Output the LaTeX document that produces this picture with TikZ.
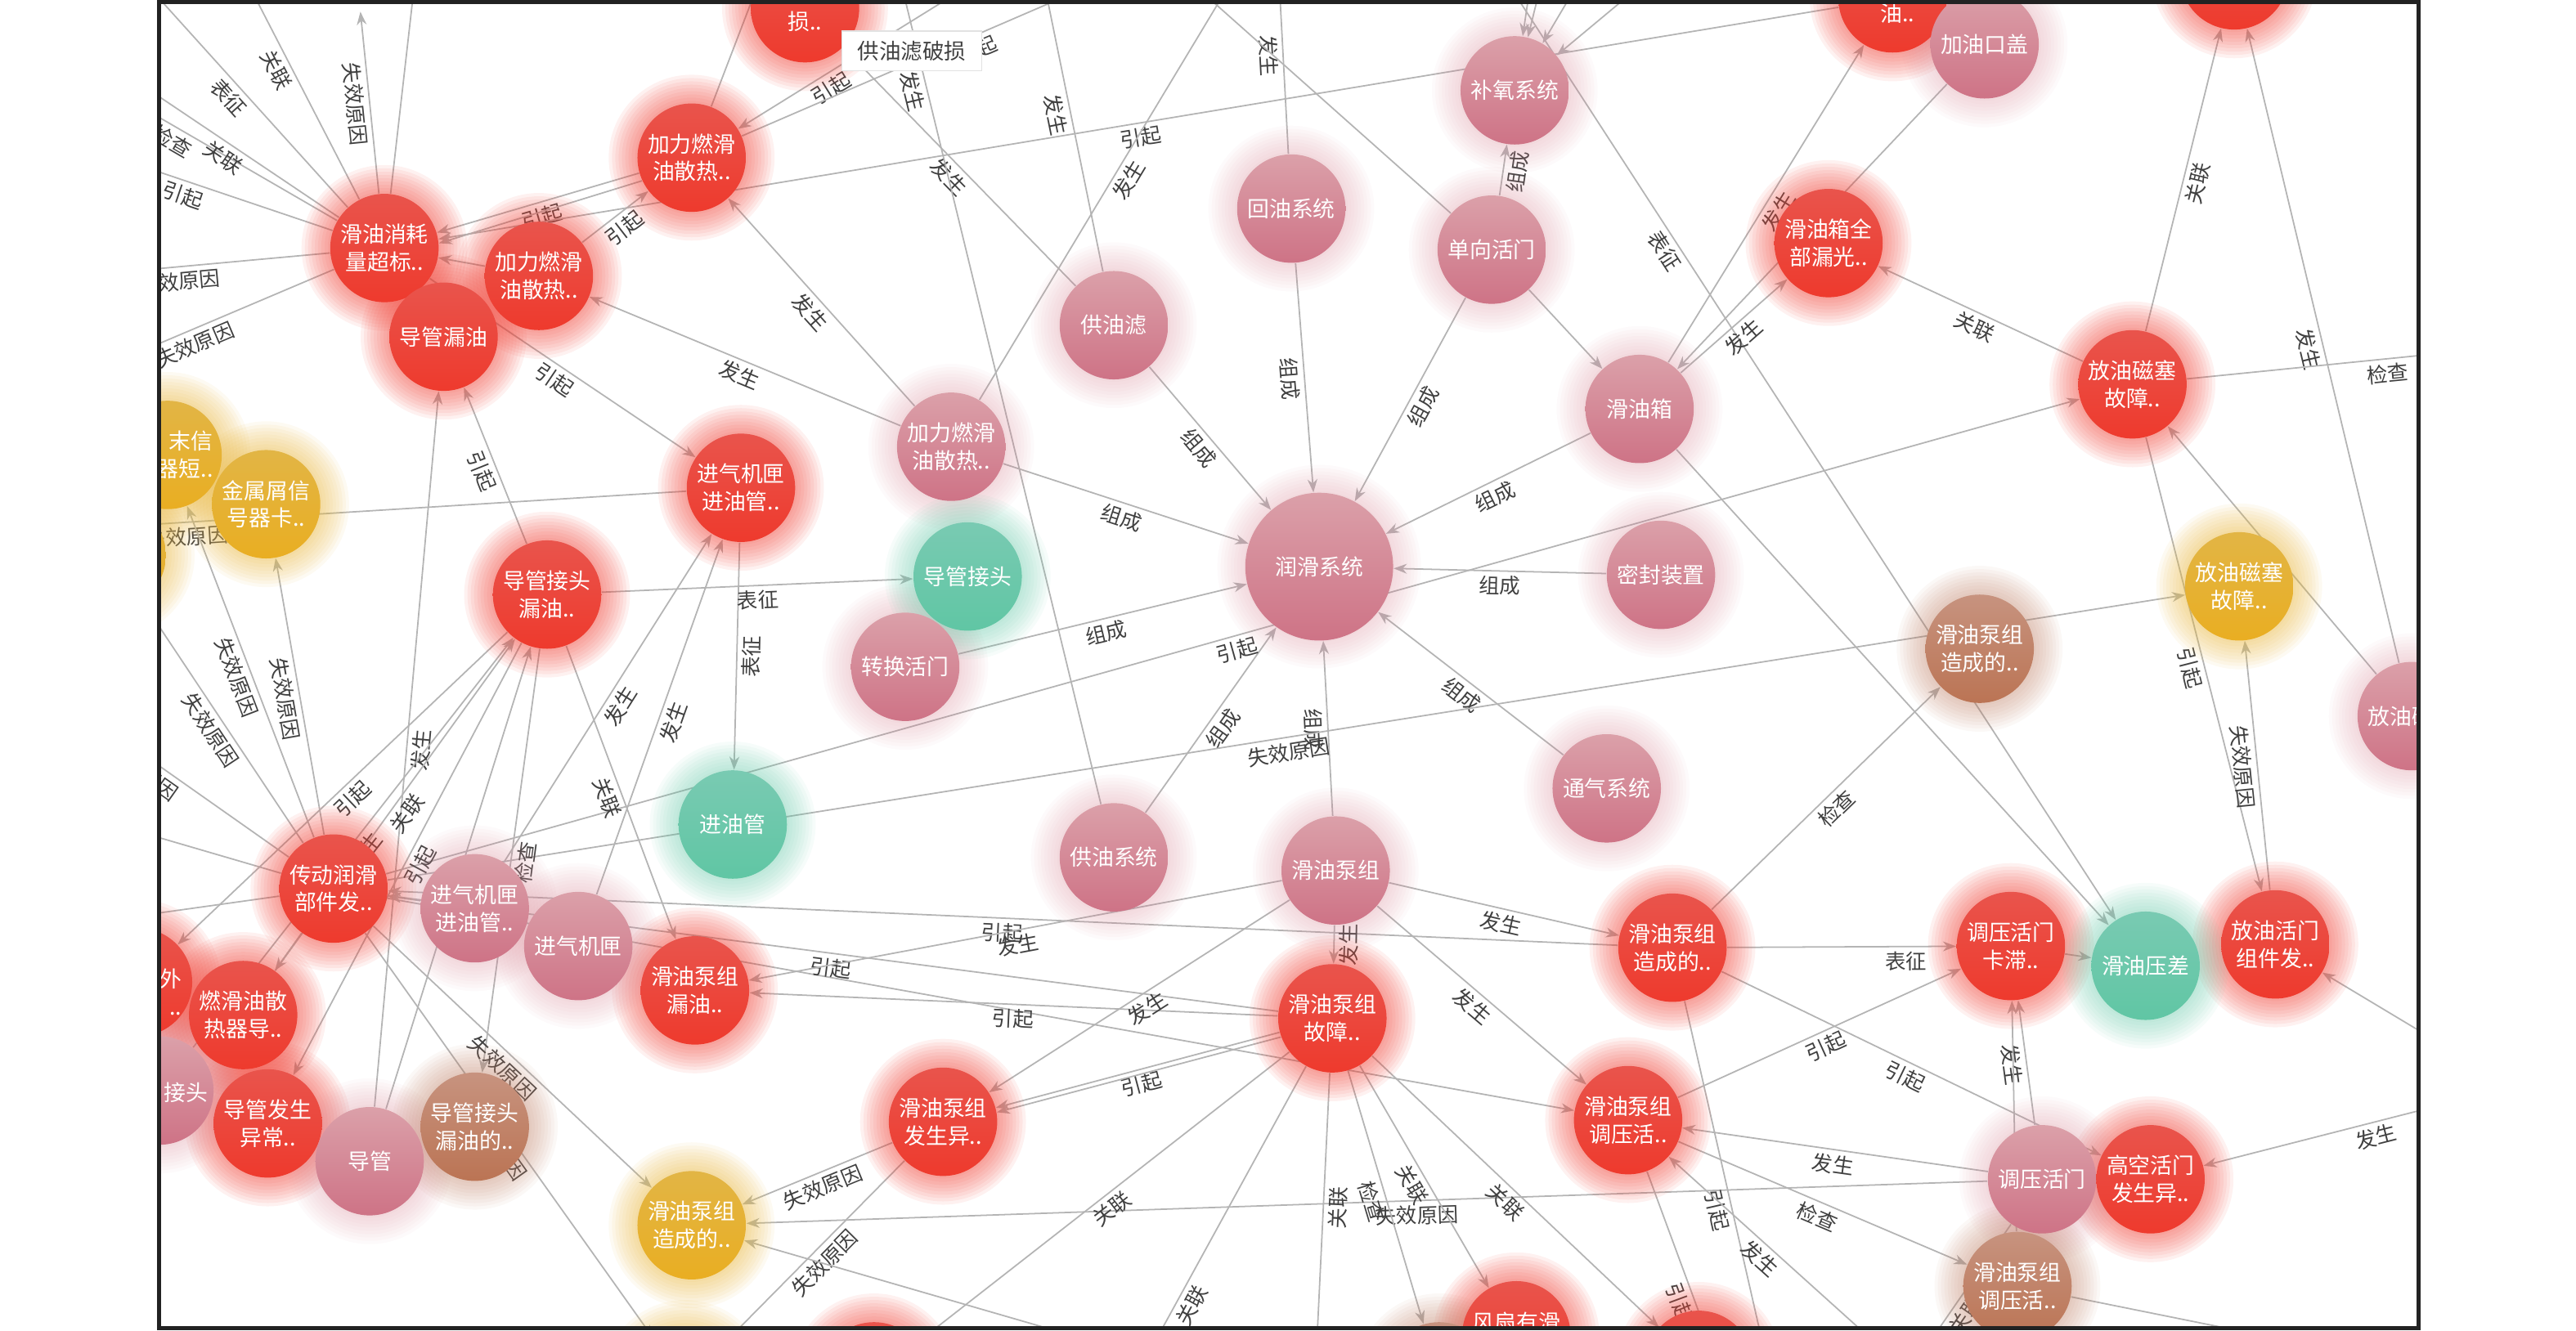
\documentclass[tikz,border=0pt]{standalone}
\usepackage{fontspec}
\newfontfamily\cjk{Noto Sans CJK SC}
\usetikzlibrary{arrows.meta}

\definecolor{redtop}{HTML}{E9544C}
\definecolor{redbot}{HTML}{EE3A2D}
\definecolor{redglow}{HTML}{F0453A}
\definecolor{pinktop}{HTML}{DBA0A9}
\definecolor{pinkbot}{HTML}{CE7386}
\definecolor{pinkglow}{HTML}{D98C99}
\definecolor{yeltop}{HTML}{E2B545}
\definecolor{yelbot}{HTML}{E9AE22}
\definecolor{yelglow}{HTML}{E8B640}
\definecolor{grntop}{HTML}{79CAB2}
\definecolor{grnbot}{HTML}{60C6A4}
\definecolor{grnglow}{HTML}{66C8A8}
\definecolor{brntop}{HTML}{C7937F}
\definecolor{brnbot}{HTML}{BB7454}
\definecolor{brnglow}{HTML}{BE8066}
\definecolor{linegray}{HTML}{B4B4B4}
\definecolor{labgray}{HTML}{404040}
\definecolor{framecol}{HTML}{222222}
\definecolor{tipline}{HTML}{E2E2E2}

\newcommand{\ballfont}{\cjk\fontsize{7.6}{9.6}\selectfont}
\newcommand{\relfont}{\cjk\fontsize{7.2}{8}\selectfont}

\pgfdeclarelayer{edgelayer}
\pgfdeclarelayer{glowlayer}
\pgfsetlayers{edgelayer,glowlayer,main}

\begin{document}
\begin{tikzpicture}[x=0.02cm,y=-0.02cm,
	ball/.style={circle,minimum size=1.32cm,inner sep=0pt,text=white,font=\ballfont,align=center},
	redball/.style={ball,top color=redtop,bottom color=redbot},
	pinkball/.style={ball,top color=pinktop,bottom color=pinkbot},
	yelball/.style={ball,top color=yeltop,bottom color=yelbot},
	grnball/.style={ball,top color=grntop,bottom color=grnbot},
	brnball/.style={ball,top color=brntop,bottom color=brnbot},
	ghost/.style={circle,minimum size=1.32cm,inner sep=0pt},
	balltext/.style={text=white,font=\ballfont,inner sep=0pt,align=center},
	rel/.style={draw=linegray,line width=0.5pt,-{Stealth[length=0.16cm,width=0.12cm]}},
	lab/.style={midway,sloped,below=1pt,inner sep=0.5pt,font=\relfont,text=labgray},
	tipbox/.style={fill=white,draw=tipline,line width=0.4pt,minimum width=1.7cm,minimum height=0.48cm,inner sep=0pt,font=\cjk\fontsize{7.5}{8}\selectfont,text=labgray}]
		\useasboundingbox (0,0) rectangle (1568,810);

		\begin{scope}
			\clip (98,2) rectangle (1471,808);
			\node[redball] (sun) at (490,5) {};
			\node[redball] (jl1) at (421,96) {加力燃滑\\油散热..};
			\node[redball] (hyxh) at (234,151) {滑油消耗\\量超标..};
			\node[redball] (jl2) at (328,168) {加力燃滑\\油散热..};
			\node[redball] (dglo) at (270,205) {导管漏油};
			\node[pinkball] (gyl) at (678,198) {供油滤};
			\node[pinkball] (hyxt) at (786,127) {回油系统};
			\node[pinkball] (byxt) at (922,55) {补氧系统};
			\node[pinkball] (dxhm) at (908,152) {单向活门};
			\node[redball] (you) at (1152,-1) {};
			\node[pinkball] (jykg) at (1208,27) {加油口盖};
			\node[redball] (hyxq) at (1113,148) {滑油箱全\\部漏光..};
			\node[redball] (fycs1) at (1298,234) {放油磁塞\\故障..};
			\node[redball] (topr) at (1360,-15) {};
			\node[pinkball] (hyx) at (998,249) {滑油箱};
			\node[pinkball] (jl3) at (579,272) {加力燃滑\\油散热..};
			\node[redball] (jqjx1) at (451,297) {进气机匣\\进油管..};
			\node[yelball] (mx) at (102,277) {};
			\node[yelball] (l3) at (68,338) {};
			\node[yelball] (jsx) at (162,307) {金属屑信\\号器卡..};
			\node[redball] (dgjt1) at (333,362) {导管接头\\漏油..};
			\node[grnball] (dgjt) at (589,351) {导管接头};
			\node[pinkball] (zhhm) at (551,406) {转换活门};
			\node[pinkball,minimum size=1.8cm] (rhxt) at (803,345) {润滑系统};
			\node[pinkball] (mfzz) at (1011,350) {密封装置};
			\node[pinkball] (tqxt) at (978,480) {通气系统};
			\node[brnball] (hybz1) at (1205,395) {滑油泵组\\造成的..};
			\node[yelball] (fycs2) at (1363,357) {放油磁塞\\故障..};
			\node[pinkball] (fycs3) at (1468,436) {};
			\node[grnball] (jyg) at (446,502) {进油管};
			\node[redball] (cdrh) at (203,541) {传动润滑\\部件发..};
			\node[pinkball] (jqjx2) at (289,553) {进气机匣\\进油管..};
			\node[pinkball] (jqjx) at (352,576) {进气机匣};
			\node[redball] (hybz2) at (423,603) {滑油泵组\\漏油..};
			\node[redball] (l1) at (84,598) {};
			\node[redball] (rhys) at (148,618) {燃滑油散\\热器导..};
			\node[pinkball] (l2) at (97,664) {};
			\node[redball] (dgfs) at (163,684) {导管发生\\异常..};
			\node[pinkball] (dg) at (225,707) {导管};
			\node[brnball] (dgjt2) at (289,686) {导管接头\\漏油的..};
			\node[yelball] (hybz3) at (421,746) {滑油泵组\\造成的..};
			\node[pinkball] (gyxt) at (678,522) {供油系统};
			\node[pinkball] (hybz) at (813,530) {滑油泵组};
			\node[redball] (hybzg) at (811,620) {滑油泵组\\故障..};
			\node[redball] (hybzf) at (574,683) {滑油泵组\\发生异..};
			\node[redball] (hybz4) at (1018,577) {滑油泵组\\造成的..};
			\node[redball] (hybz5) at (991,682) {滑油泵组\\调压活..};
			\node[redball] (tyhm1) at (1224,576) {调压活门\\卡滞..};
			\node[grnball] (hyyc) at (1306,588) {滑油压差};
			\node[redball] (fyhm) at (1385,575) {放油活门\\组件发..};
			\node[pinkball] (tyhm) at (1243,718) {调压活门};
			\node[redball] (gkhm) at (1309,718) {高空活门\\发生异..};
			\node[brnball] (hybz6) at (1228,783) {滑油泵组\\调压活..};
			\node[redball] (fs) at (923,813) {};
			\node[redball] (b1) at (1034,831) {};
			\node[brnball] (b2) at (876,838) {};
			\node[redball] (b3) at (532,838) {};
			\node[yelball] (b4) at (417,842) {};
			\node[balltext] (sunt) at (490,13) {损..};
			\node[balltext] (yout) at (1155,8) {油..};
			\node[balltext,anchor=east,align=right] (mxt) at (130,277) {末信\\器短..};
			\node[balltext,anchor=east,align=right] (l1t) at (111,604) {外\\..};
			\node[balltext,anchor=east] (l2t) at (127,665) {接头};
			\node[balltext,anchor=west] (fycs3t) at (1441,436) {放油磁};
			\node[balltext] (fst) at (923,805) {风扇有滑};
		\end{scope}

		\node[ghost] (g1) at (58,-44) {};
		\node[ghost] (g2) at (118,-74) {};
		\node[ghost] (g3) at (216,-26) {};
		\node[ghost] (g4) at (258,-60) {};
		\node[ghost] (g5) at (-16,6) {};
		\node[ghost] (g6) at (48,26) {};
		\node[ghost] (g7) at (-6,70) {};
		\node[ghost] (g8) at (-18,174) {};
		\node[ghost] (g9) at (-4,252) {};
		\node[ghost] (g16) at (475,-45) {};
		\node[ghost] (gA) at (640,-40) {};
		\node[ghost] (gB) at (736,-40) {};
		\node[ghost] (gC) at (450,-415) {};
		\node[ghost] (gD) at (625,-62) {};
		\node[ghost] (gE) at (780,-62) {};
		\node[ghost] (gF) at (776,-60) {};
		\node[ghost] (gG) at (700,-33) {};
		\node[ghost] (gH1) at (936,-40) {};
		\node[ghost] (gH2) at (948,-50) {};
		\node[ghost] (gH3) at (990,-60) {};
		\node[ghost] (gH4) at (1060,-60) {};
		\node[ghost] (gI) at (735,-292) {};
		\node[ghost] (gJ) at (1607,203) {};
		\node[ghost] (gK) at (-225,339) {};
		\node[ghost] (gL) at (-20,384) {};
		\node[ghost] (gM1) at (-40,470) {};
		\node[ghost] (gM2) at (-40,575) {};
		\node[ghost] (gN) at (624,961) {};
		\node[ghost] (gO) at (780,850) {};
		\node[ghost] (gP) at (800,850) {};
		\node[ghost] (gQ1) at (1579,649) {};
		\node[ghost] (gQ2) at (1560,680) {};
		\node[ghost] (gR) at (1560,850) {};
		\node[ghost] (gS) at (1136,873) {};
		\node[ghost] (gT) at (1090,893) {};
		\node[ghost] (gU) at (1163,837) {};
		\node[ghost] (gV) at (1071,899) {};

		\begin{pgfonlayer}{glowlayer}
			\begin{scope}
				\clip (98,2) rectangle (1471,808);
				\foreach \n/\c/\o in {sun/redglow/0.075,jl1/redglow/0.075,hyxh/redglow/0.075,jl2/redglow/0.075,dglo/redglow/0.075,you/redglow/0.075,hyxq/redglow/0.075,fycs1/redglow/0.075,topr/redglow/0.075,jqjx1/redglow/0.075,dgjt1/redglow/0.075,cdrh/redglow/0.075,hybz2/redglow/0.075,rhys/redglow/0.075,dgfs/redglow/0.075,hybzg/redglow/0.075,hybzf/redglow/0.075,hybz4/redglow/0.075,hybz5/redglow/0.075,tyhm1/redglow/0.075,fyhm/redglow/0.075,gkhm/redglow/0.075,fs/redglow/0.075,b1/redglow/0.075,b3/redglow/0.075,l1/redglow/0.075,gyl/pinkglow/0.045,hyxt/pinkglow/0.045,byxt/pinkglow/0.045,dxhm/pinkglow/0.045,jykg/pinkglow/0.045,hyx/pinkglow/0.045,jl3/pinkglow/0.045,zhhm/pinkglow/0.045,mfzz/pinkglow/0.045,tqxt/pinkglow/0.045,fycs3/pinkglow/0.045,jqjx2/pinkglow/0.045,jqjx/pinkglow/0.045,dg/pinkglow/0.045,gyxt/pinkglow/0.045,hybz/pinkglow/0.045,tyhm/pinkglow/0.045,l2/pinkglow/0.045,jsx/yelglow/0.07,mx/yelglow/0.07,l3/yelglow/0.07,fycs2/yelglow/0.07,hybz3/yelglow/0.07,b4/yelglow/0.07,dgjt/grnglow/0.06,jyg/grnglow/0.06,hyyc/grnglow/0.06,hybz1/brnglow/0.06,dgjt2/brnglow/0.06,hybz6/brnglow/0.06,b2/brnglow/0.06}
					\foreach \r in {0.69,0.73,0.77,0.81,0.85,0.89,0.93,0.97,1.01}
						\fill[\c,opacity=\o] (\n) circle (\r cm);
				\foreach \r in {0.92,0.96,1.00,1.04,1.08,1.12,1.16,1.20,1.24}
					\fill[pinkglow,opacity=0.045] (rhxt) circle (\r cm);
			\end{scope}
		\end{pgfonlayer}

		\begin{pgfonlayer}{edgelayer}
			\begin{scope}
				\clip (98,2) rectangle (1471,808);
				\draw[rel] (hyxh) -- (g1) node[lab]{表征};
				\draw[rel] (hyxh) -- (g2) node[lab]{关联};
				\draw[rel] (hyxh) -- (g3) node[lab]{失效原因};
				\draw[rel] (hyxh) -- (g4);
				\draw[rel] (hyxh) -- (g5) node[lab]{检查};
				\draw[rel] (hyxh) -- (g6) node[lab]{关联};
				\draw[rel] (hyxh) -- (g7) node[lab]{引起};
				\draw[rel] (hyxh) -- (g8) node[lab]{失效原因};
				\draw[rel] (hyxh) -- (g9) node[lab]{失效原因};
				\draw[rel] (jl1) -- (hyxh) node[lab]{引起};
				\draw[rel] (jl1.205) -- (hyxh.5);
				\draw[rel] (jl2) -- (hyxh);
				\draw[rel] (you) -- (hyxh) node[lab]{引起};
				\draw[rel] (hyxh) -- (jqjx1) node[lab]{引起};
				\draw[rel] (jl2) -- (jl1) node[lab]{引起};
				\draw[rel] (jl3) -- (jl1) node[lab]{发生};
				\draw[rel] (jl3) -- (jl2) node[lab]{发生};
				\draw[rel] (jl1) -- (g16);
				\draw[rel] (gA) -- (jl1) node[lab,pos=0.68]{引起};
				\draw[rel] (jl1) -- (gB) node[lab,pos=0.55]{引起};
				\draw[rel] (gyl) -- (sun) node[lab]{发生};
				\draw[rel] (gyxt) -- (gC) node[lab]{发生};
				\draw[rel] (gyl) -- (gD) node[lab]{发生};
				\draw[rel] (jl3) -- (gE) node[lab]{发生};
				\draw[rel] (hyxt) -- (gF) node[lab]{发生};
				\draw[rel] (dxhm) -- (gG);
				\draw[rel] (dxhm) -- (hyx);
				\foreach \g in {gH1,gH2,gH3,gH4}
					\draw[rel] (\g) -- (byxt);
				\draw[rel] (dxhm) -- (byxt) node[lab]{组成};
				\foreach \s in {hyxt,dxhm,gyl,jl3,zhhm,gyxt,hybz,hyx,mfzz,tqxt}
					\draw[rel] (\s) -- (rhxt) node[lab]{组成};
				\draw[rel] (gI) -- (hyyc) node[lab]{表征};
				\draw[rel] (hyx) -- (hyyc);
				\draw[rel] (hyx) -- (hyxq) node[lab]{发生};
				\draw[rel] (jykg) -- (hyx);
				\draw[rel] (hyx) -- (you) node[lab]{发生};
				\draw[rel] (fycs1) -- (hyxq) node[lab]{关联};
				\draw[rel] (fycs1) -- (topr) node[lab]{关联};
				\draw[rel] (fycs3) -- (topr) node[lab]{发生};
				\draw[rel] (fycs3) -- (fycs1);
				\draw[rel] (fycs1) -- (gJ) node[lab]{检查};
				\draw[rel] (fycs1) -- (fyhm) node[lab]{引起};
				\draw[rel] (fyhm) -- (fycs2) node[lab]{失效原因};
				\draw[rel] (cdrh) -- (fycs1) node[lab]{引起};
				\draw[rel] (cdrh) -- (fycs2) node[lab]{失效原因};
				\draw[rel] (jqjx1) -- (jyg) node[lab]{表征};
				\draw[rel] (dgjt1) -- (dgjt) node[lab]{表征};
				\draw[rel] (jqjx1) -- (gK) node[lab]{失效原因};
				\draw[rel] (dgjt1) -- (dglo) node[lab]{引起};
				\draw[rel] (dg) -- (dglo) node[lab]{发生};
				\draw[rel] (cdrh) -- (jsx) node[lab]{失效原因};
				\draw[rel] (cdrh) -- (mx) node[lab]{失效原因};
				\draw[rel] (cdrh) -- (l3) node[lab]{失效原因};
				\draw[rel] (cdrh) -- (gL) node[lab]{失效原因};
				\draw[rel] (cdrh) -- (gM1);
				\draw[rel] (cdrh) -- (gM2);
				\draw[rel] (cdrh) -- (rhys);
				\draw[rel] (dgjt1) -- (l1) node[lab]{引起};
				\draw[rel] (rhys) -- (dgjt1) node[lab]{关联};
				\draw[rel] (l2) -- (dgjt1) node[lab]{发生};
				\draw[rel] (dgjt1) -- (dgfs) node[lab]{引起};
				\draw[rel] (dg) -- (dgjt1);
				\draw[rel] (dgjt1) -- (hybz2) node[lab]{关联};
				\draw[rel] (dgjt1) -- (dgjt2) node[lab]{检查};
				\draw[rel] (jqjx2) -- (jqjx1) node[lab]{发生};
				\draw[rel] (jqjx) -- (jqjx1) node[lab]{发生};
				\draw[rel] (jqjx2) -- (cdrh);
				\draw[rel] (cdrh) -- (hybz3) node[lab]{失效原因};
				\draw[rel] (cdrh) -- (b4) node[lab]{失效原因};
				\draw[rel] (cdrh) -- (hybz5);
				\draw[rel] (hybzg) -- (cdrh) node[lab]{引起};
				\draw[rel] (hybz4) -- (cdrh) node[lab]{引起};
				\draw[rel] (hybz) -- (hybz2) node[lab]{发生};
				\draw[rel] (hybzg) -- (hybz2) node[lab]{引起};
				\draw[rel] (hybzg) -- (hybzf) node[lab]{引起};
				\draw[rel] (hybzg.200) -- (hybzf.10);
				\draw[rel] (hybz) -- (hybzf) node[lab]{发生};
				\draw[rel] (hybz) -- (hybzg) node[lab]{发生};
				\draw[rel] (hybz) -- (hybz4) node[lab]{发生};
				\draw[rel] (hybz) -- (hybz5) node[lab]{发生};
				\draw[rel] (hybzf) -- (hybz3) node[lab]{失效原因};
				\draw[rel] (hybzf) -- (b4) node[lab]{失效原因};
				\draw[rel] (gO) -- (hybz3);
				\draw[rel] (tyhm) -- (hybz3) node[lab,pos=0.46]{失效原因};
				\draw[rel] (hybzg) -- (b3) node[lab]{关联};
				\draw[rel] (hybzg) -- (gN) node[lab]{关联};
				\draw[rel] (hybzg) -- (gP) node[lab]{关联};
				\draw[rel] (hybzg) -- (b2) node[lab]{检查};
				\draw[rel] (hybzg) -- (fs) node[lab]{关联};
				\draw[rel] (hybzg) -- (b1) node[lab]{关联};
				\draw[rel] (hybz4) -- (hybz1) node[lab]{检查};
				\draw[rel] (hybz4) -- (tyhm1) node[lab,pos=0.78]{表征};
				\draw[rel] (hybz4) -- (gkhm) node[lab]{引起};
				\draw[rel] (hybz4) -- (gT) node[lab]{引起};
				\draw[rel] (hybz5) -- (tyhm1) node[lab]{引起};
				\draw[rel] (hybz5) -- (hybz6) node[lab]{检查};
				\draw[rel] (hybz5) -- (gV) node[lab]{引起};
				\draw[rel] (gU) -- (hybz5) node[lab]{发生};
				\draw[rel] (tyhm) -- (hybz5) node[lab]{发生};
				\draw[rel] (tyhm) -- (tyhm1) node[lab]{发生};
				\draw[rel] (tyhm) -- (gS) node[lab]{关联};
				\draw[rel] (hybz6) -- (tyhm1);
				\draw[rel] (hybz6) -- (gR);
				\draw[rel] (tyhm1) -- (hyyc);
				\draw[rel] (gQ1) -- (gkhm) node[lab]{发生};
				\draw[rel] (gQ2) -- (fyhm);
			\end{scope}
		\end{pgfonlayer}

		\node[tipbox] (tip) at (555,31) {供油滤破损};
		\draw[line width=0.05cm,framecol] (97,1.2) rectangle (1472,808.8);
	\end{tikzpicture}
\end{document}
